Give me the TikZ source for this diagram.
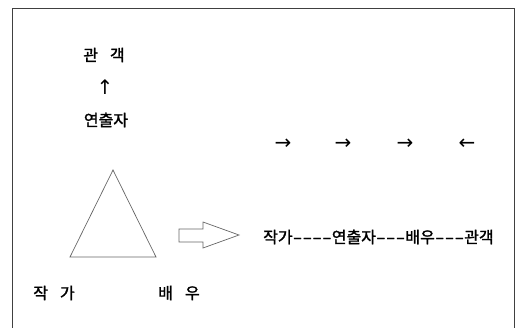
\documentclass[tikz,border=0pt]{standalone}
\usepackage{fontspec}
\newfontfamily\kr[FakeBold=1.5]{Noto Sans CJK KR}
\newfontfamily\sym{DejaVu Sans}
\newcommand\hy{\makebox[9.8pt]{\scalebox{1.7}[1]{-}}}
\begin{document}
\begin{tikzpicture}[x=1pt,y=-1pt,
  lbl/.style={font=\kr\fontsize{16}{16}\selectfont, inner sep=0pt, anchor=center},
  arr/.style={font=\sym\fontsize{20}{20}\selectfont, inner sep=0pt, anchor=center},
  frameline/.style={draw=black!75, line width=1.4pt},
  outline/.style={draw=black!60, line width=0.7pt}]
\useasboundingbox (0,0) rectangle (516,327);
\draw[frameline] (12.5,330) -- (12.5,8.5) -- (514.5,8.5) -- (514.5,330);
\node[lbl] (audience) at (104,55) {관\hspace{12pt}객};
\node[arr] (up) at (105,87) {↑};
\node[lbl] (director) at (106,120) {연출자};
\node[arr] (a1) at (283,144) {→};
\node[arr] (a2) at (343,144) {→};
\node[arr] (a3) at (405,144) {→};
\node[arr] (a4) at (467,144) {←};
\draw[outline] (113,170) -- (156,257) -- (70,257) -- cycle;
\draw[outline] (179,229) -- (203,229) -- (203,222) -- (239,235) -- (203,248) -- (203,242) -- (179,242) -- cycle;
\node[lbl, anchor=west] (chain) at (263,237) {작가\hy\hy\hy\hy 연출자\hy\hy\hy 배우\hy\hy\hy 관객};
\node[lbl] (writer) at (54,293) {작\hspace{12pt}가};
\node[lbl] (actor) at (179,293) {배\hspace{12pt}우};
\end{tikzpicture}
\end{document}
